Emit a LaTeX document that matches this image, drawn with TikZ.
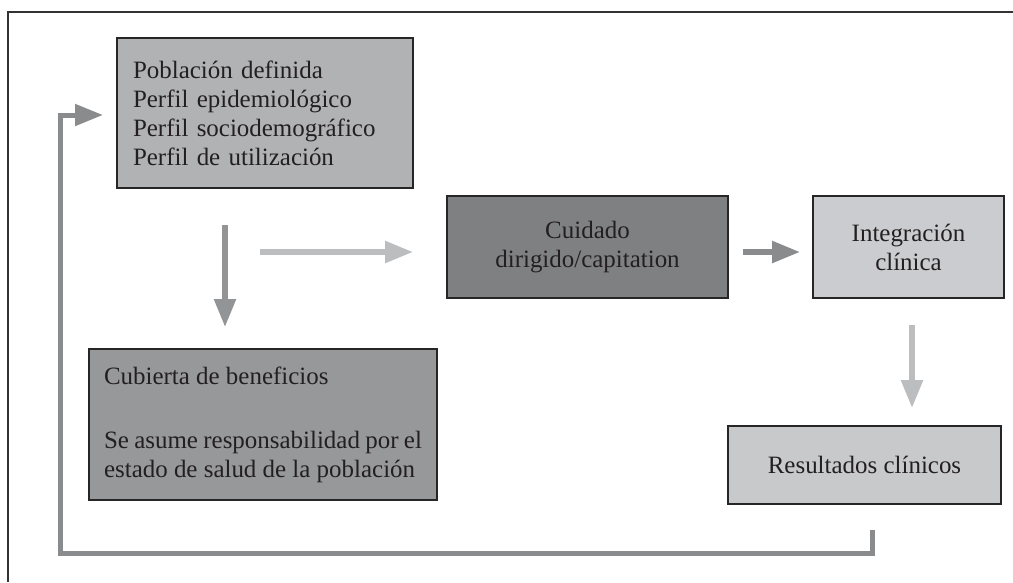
\documentclass[tikz,border=0pt]{standalone}
\usepackage{fontspec}
\setmainfont{Liberation Serif}
\usetikzlibrary{arrows.meta}
\definecolor{grisPob}{HTML}{B1B2B4}
\definecolor{grisCub}{HTML}{97989A}
\definecolor{grisCui}{HTML}{7F8082}
\definecolor{grisInt}{HTML}{CBCCCF}
\definecolor{grisRes}{HTML}{C8C9CB}
\definecolor{flechaOsc}{HTML}{8A8B8D}
\definecolor{flechaMed}{HTML}{939496}
\definecolor{flechaCla}{HTML}{BCBDBF}
\definecolor{texto}{HTML}{231F20}

\begin{document}
\begin{tikzpicture}[x=0.02cm,y=-0.02cm,
  caja/.style={draw=black!85,line width=0.8pt,inner sep=0pt,text=texto,font=\fontsize{14.2}{16.5}\selectfont},
  flecha/.style={line width=0.11cm,-{Triangle[length=0.56cm,width=0.42cm]}}]
\useasboundingbox (0,0) rectangle (1013,582);
\draw[black!80,line width=0.6pt] (8,582) -- (8,12) -- (1013,12);
\node[caja,fill=grisPob,minimum width=5.92cm,minimum height=3cm,text width=5.28cm,align=left] (pob) at (265,113)
  {Población definida\\Perfil epidemiológico\\Perfil sociodemográfico\\Perfil de utilización};
\node[caja,fill=grisCub,minimum width=6.96cm,minimum height=3.02cm,text width=6.36cm,align=justify] (cub) at (263,424.5)
  {Cubierta de beneficios\\[20pt]Se asume responsabilidad por el\linebreak estado de salud de la población};
\node[caja,fill=grisCui,minimum width=5.62cm,minimum height=2.04cm,align=center] (cui) at (587.5,247)
  {Cuidado\\dirigido/capitation};
\node[caja,fill=grisInt,minimum width=3.82cm,minimum height=2.04cm,align=center] (int) at (908.5,247)
  {Integración\\clínica};
\node[caja,fill=grisRes,minimum width=5.46cm,minimum height=1.56cm,align=center] (res) at (864.5,465)
  {Resultados clínicos};
\coordinate (b1) at (872,530);
\coordinate (b2) at (103,115);
\draw[flecha,flechaOsc,line width=0.1cm] (b1) |- (60,553) |- (b2);
\draw[flecha,flechaMed] (225,225) -- (225,327);
\draw[flecha,flechaCla] (260,252) -- (413,252);
\draw[flecha,flechaOsc] (743,252) -- (800,252);
\draw[flecha,flechaCla] (912,325) -- (912,408);
\end{tikzpicture}
\end{document}
